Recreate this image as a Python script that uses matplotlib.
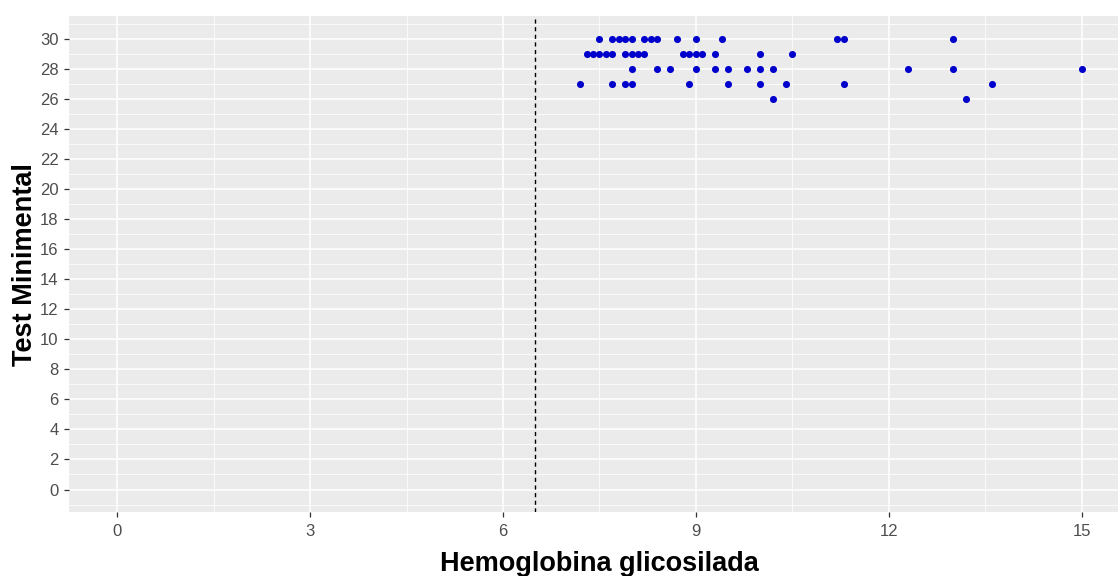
import numpy as np
import matplotlib
matplotlib.use("Agg")
import matplotlib.pyplot as plt
from matplotlib.ticker import MultipleLocator

plt.rcParams['font.family'] = ['Liberation Sans', 'DejaVu Sans']

# hemoglobina glicosilada vs test minimental
hba1c = [7.5, 7.7, 7.8, 7.9, 8.0, 8.2, 8.3, 8.4, 8.7, 9.0, 9.4, 11.2, 11.3, 13.0,
         7.3, 7.4, 7.5, 7.6, 7.7, 7.9, 8.0, 8.1, 8.2, 8.8, 8.9, 9.0, 9.1, 9.3, 10.0, 10.5,
         8.0, 8.4, 8.6, 9.0, 9.3, 9.5, 9.8, 10.0, 10.2, 12.3, 13.0, 15.0,
         7.2, 7.7, 7.9, 8.0, 8.9, 9.5, 10.0, 10.4, 11.3, 13.6,
         10.2, 13.2]
minimental = [30] * 14 + [29] * 16 + [28] * 12 + [27] * 10 + [26] * 2
cutoff = 6.5

fig = plt.figure(figsize=(11.18, 5.76), dpi=100)
ax = fig.add_axes([0.0617, 0.111, 0.949, 0.861])
ax.set_facecolor('#EBEBEB')

ax.xaxis.set_major_locator(MultipleLocator(3))
ax.xaxis.set_minor_locator(MultipleLocator(1.5))
ax.yaxis.set_major_locator(MultipleLocator(2))
ax.yaxis.set_minor_locator(MultipleLocator(1))
ax.grid(which='major', color='white', linewidth=1.1)
ax.grid(which='minor', color='white', linewidth=0.55)
ax.set_axisbelow(True)

ax.axvline(cutoff, color='black', linestyle=(0, (3, 2.5)), linewidth=1.0)
ax.scatter(hba1c, minimental, s=26, color='#0000CD', zorder=3, linewidths=0)

ax.set_xlim(-0.75, 15.75)
ax.set_ylim(-1.5, 31.5)

for s in ax.spines.values():
    s.set_visible(False)
ax.tick_params(which='major', length=3.5, width=0.9, color='#333333',
               labelcolor='#4D4D4D', labelsize=12)
ax.tick_params(axis='x', which='major', pad=5)
ax.tick_params(axis='y', which='major', pad=4)
ax.tick_params(which='minor', length=0)

ax.set_xlabel('Hemoglobina glicosilada', fontsize=19.5, fontweight='bold', labelpad=9)
ax.set_ylabel('Test Minimental', fontsize=19.5, fontweight='bold', labelpad=1)

fig.savefig('out.png', dpi=100)
